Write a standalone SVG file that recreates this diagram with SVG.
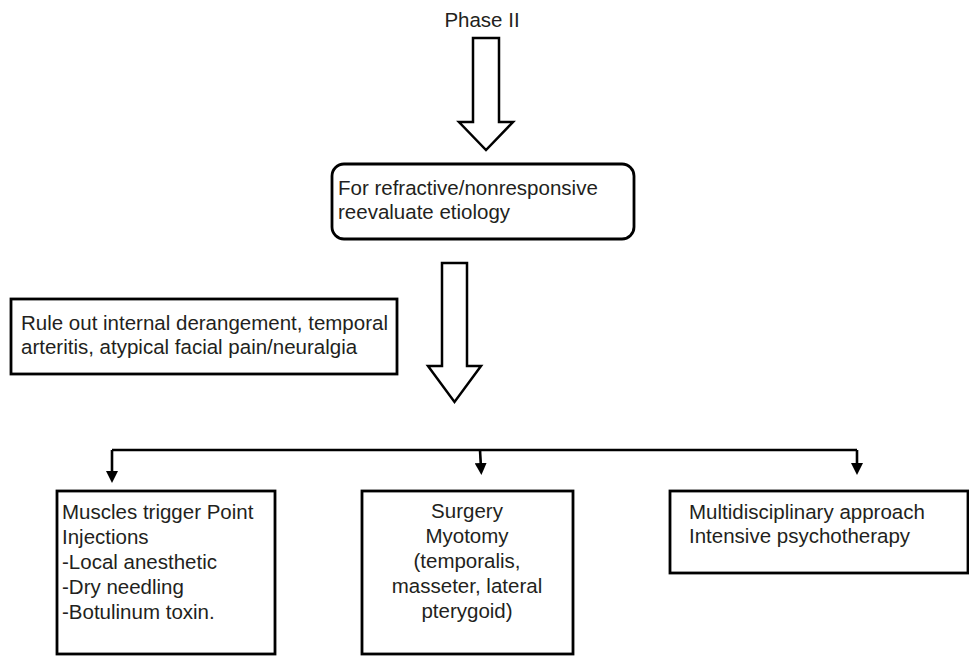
<svg xmlns="http://www.w3.org/2000/svg" width="969" height="656" viewBox="0 0 969 656">
<style>
text{font-family:"Liberation Sans",Arial,sans-serif;font-size:20.5px;fill:#231f20}
.box{fill:#fff;stroke:#000;stroke-width:2.8}
.big{fill:#fff;stroke:#000;stroke-width:2.5;stroke-linejoin:miter}
.conn{fill:none;stroke:#000;stroke-width:2.6}
</style>
<defs>
<marker id="ah" markerWidth="12" markerHeight="12" refX="5" refY="6" orient="auto" markerUnits="userSpaceOnUse" viewBox="0 0 12 12">
<path d="M0,0 L12,6 L0,12 Z" fill="#000"/>
</marker>
</defs>
<rect width="969" height="656" fill="#fff"/>
<g id="phase">
<text x="482" y="27" text-anchor="middle">Phase II</text>
</g>
<g id="arrow1">
<path class="big" d="M473,38 H499 V122 H513 L486,150 L459,122 H473 Z"/>
</g>
<g id="refractive">
<rect class="box" x="332" y="164" width="302" height="75" rx="12"/>
<text x="338" y="195">For refractive/nonresponsive</text>
<text x="338" y="219">reevaluate etiology</text>
</g>
<g id="arrow2">
<path class="big" d="M442,263 H467 V366 H481 L454.5,402 L428,366 H442 Z"/>
</g>
<g id="ruleout">
<rect class="box" x="11" y="299" width="386" height="75"/>
<text x="21" y="330">Rule out internal derangement, temporal</text>
<text x="21" y="354">arteritis, atypical facial pain/neuralgia</text>
</g>
<g id="connectors">
<path class="conn" d="M112,450 H857"/>
<path class="conn" d="M112,450 V476" marker-end="url(#ah)"/>
<path class="conn" d="M480,450 L481,468" marker-end="url(#ah)"/>
<path class="conn" d="M857,450 V468" marker-end="url(#ah)"/>
</g>
<g id="injections">
<rect class="box" x="57" y="491" width="218" height="163"/>
<text x="62" y="519">Muscles trigger Point</text>
<text x="62" y="544">Injections</text>
<text x="62" y="569">-Local anesthetic</text>
<text x="62" y="594">-Dry needling</text>
<text x="62" y="619">-Botulinum toxin.</text>
</g>
<g id="surgery">
<rect class="box" x="362" y="491" width="211" height="163"/>
<text x="467" y="518" text-anchor="middle">Surgery</text>
<text x="467" y="543" text-anchor="middle">Myotomy</text>
<text x="467" y="568" text-anchor="middle">(temporalis,</text>
<text x="467" y="593" text-anchor="middle">masseter, lateral</text>
<text x="467" y="618" text-anchor="middle">pterygoid)</text>
</g>
<g id="multi">
<rect class="box" x="670" y="491" width="298" height="82"/>
<text x="689" y="519">Multidisciplinary approach</text>
<text x="689" y="543">Intensive psychotherapy</text>
</g>
</svg>
